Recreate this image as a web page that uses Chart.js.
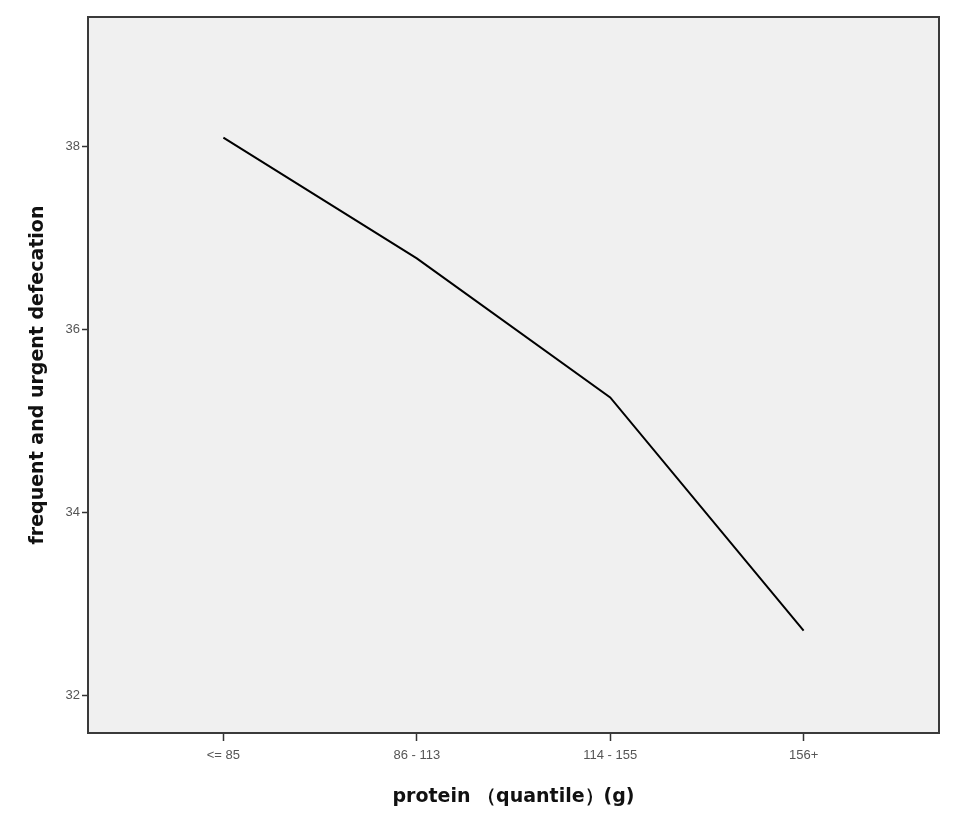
<!DOCTYPE html>
<html>
<head>
<meta charset="utf-8">
<script src="https://cdn.jsdelivr.net/npm/chart.js@4/dist/chart.umd.min.js"></script>
<style>
  html, body { margin: 0; padding: 0; background: #fff; }
  #wrap { width: 957px; height: 821px; }
</style>
</head>
<body>
<div id="wrap"><canvas id="lineChart" width="957" height="821"></canvas></div>
<script>
const categories = ['<= 85', '86 - 113', '114 - 155', '156+'];
const defecation = [38.10, 36.78, 35.26, 32.71];
const yTicks = [32, 34, 36, 38];

const points = defecation.map((v, i) => ({ x: i, y: v }));

const plotFrame = {
  id: 'plotFrame',
  beforeDraw(chart) {
    const { ctx, chartArea: a } = chart;
    ctx.save();
    ctx.fillStyle = '#f0f0f0';
    ctx.fillRect(a.left, a.top, a.right - a.left, a.bottom - a.top);
    ctx.restore();
  },
  afterDraw(chart) {
    const { ctx, chartArea: a } = chart;
    ctx.save();
    ctx.strokeStyle = '#3a3a3a';
    ctx.lineWidth = 2;
    ctx.strokeRect(a.left, a.top, a.right - a.left, a.bottom - a.top);
    ctx.restore();
  }
};

const tickFont = { family: '"Liberation Sans Narrow", "Liberation Sans", Arial, sans-serif', size: 13 };
const titleFont = { family: '"DejaVu Sans", Verdana, sans-serif', size: 19, weight: 'bold' };

new Chart(document.getElementById('lineChart'), {
  type: 'line',
  data: {
    datasets: [{
      data: points,
      borderColor: '#000',
      borderWidth: 2,
      pointRadius: 0,
      fill: false,
      tension: 0
    }]
  },
  options: {
    responsive: false,
    animation: false,
    layout: { padding: { top: 17, right: 18, left: 0, bottom: 0 } },
    plugins: { legend: { display: false }, tooltip: { enabled: false } },
    scales: {
      x: {
        type: 'linear',
        min: -0.7,
        max: 3.7,
        afterBuildTicks: s => { s.ticks = categories.map((_, i) => ({ value: i })); },
        afterFit: s => { s.height = 88; },
        ticks: {
          callback: v => categories[v],
          color: '#555',
          font: tickFont,
          padding: 7,
          maxRotation: 0,
          autoSkip: false
        },
        grid: { drawOnChartArea: false, tickLength: 8, color: '#333', tickWidth: 1.5 },
        border: { display: false },
        title: {
          display: true,
          text: 'protein （quantile）(g)',
          color: '#111',
          font: titleFont,
          padding: { top: 0, bottom: 13 }
        }
      },
      y: {
        min: 31.59,
        max: 39.42,
        afterBuildTicks: s => { s.ticks = yTicks.map(v => ({ value: v })); },
        afterFit: s => { s.width = 88; },
        ticks: { color: '#555', font: tickFont, padding: 2 },
        grid: { drawOnChartArea: false, tickLength: 6, color: '#333', tickWidth: 1.5 },
        border: { display: false },
        title: {
          display: true,
          text: 'frequent and urgent defecation',
          color: '#111',
          font: titleFont,
          padding: { top: 27, bottom: 0 }
        }
      }
    }
  },
  plugins: [plotFrame]
});
</script>
</body>
</html>
